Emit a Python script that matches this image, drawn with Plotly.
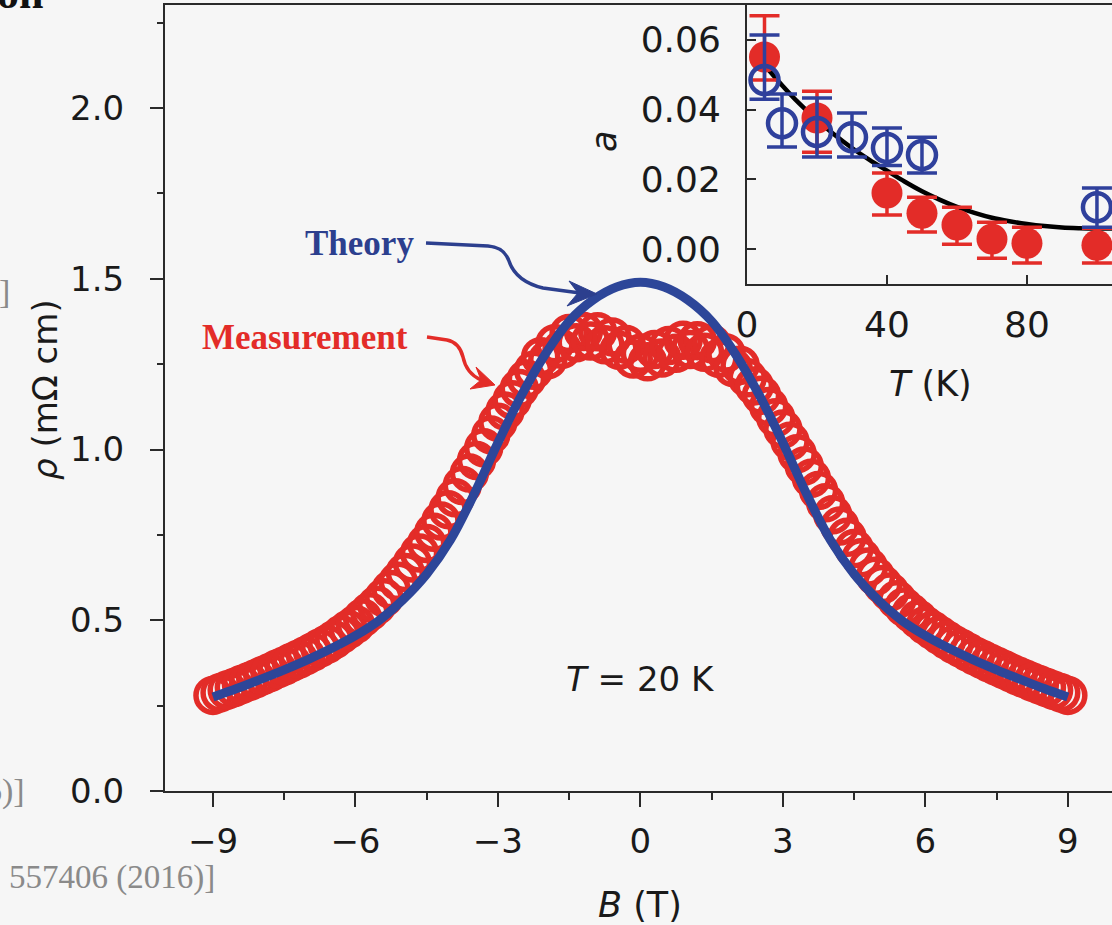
import plotly.graph_objects as go

# ---------------- data ----------------
B_meas = [-9.00, -8.85, -8.70, -8.55, -8.40, -8.25, -8.10, -7.95, -7.80, -7.65,
          -7.50, -7.35, -7.20, -7.05, -6.90, -6.75, -6.60, -6.45, -6.30, -6.15,
          -6.00, -5.85, -5.70, -5.55, -5.40, -5.25, -5.10, -4.95, -4.80, -4.65,
          -4.50, -4.35, -4.20, -4.05, -3.90, -3.75, -3.60, -3.45, -3.30, -3.15,
          -3.00, -2.85, -2.70, -2.55, -2.40, -2.25, -2.10, -1.95, -1.80, -1.65,
          -1.50, -1.35, -1.20, -1.05, -0.90, -0.75, -0.60, -0.45, -0.30, -0.15,
          0.00, 0.15, 0.30, 0.45, 0.60, 0.75, 0.90, 1.05, 1.20, 1.35,
          1.50, 1.65, 1.80, 1.95, 2.10, 2.25, 2.40, 2.55, 2.70, 2.85,
          3.00, 3.15, 3.30, 3.45, 3.60, 3.75, 3.90, 4.05, 4.20, 4.35,
          4.50, 4.65, 4.80, 4.95, 5.10, 5.25, 5.40, 5.55, 5.70, 5.85,
          6.00, 6.15, 6.30, 6.45, 6.60, 6.75, 6.90, 7.05, 7.20, 7.35,
          7.50, 7.65, 7.80, 7.95, 8.10, 8.25, 8.40, 8.55, 8.70, 8.85, 9.00]
rho_meas = [0.280, 0.288, 0.296, 0.303, 0.312, 0.320, 0.329, 0.338, 0.347, 0.357,
            0.366, 0.376, 0.386, 0.396, 0.407, 0.419, 0.430, 0.443, 0.458, 0.473,
            0.488, 0.507, 0.525, 0.544, 0.566, 0.590, 0.614, 0.640, 0.668, 0.697,
            0.725, 0.758, 0.791, 0.824, 0.859, 0.895, 0.931, 0.968, 1.005, 1.043,
            1.080, 1.113, 1.146, 1.179, 1.207, 1.232, 1.272, 1.263, 1.310, 1.294,
            1.340, 1.313, 1.346, 1.318, 1.345, 1.307, 1.330, 1.291, 1.308, 1.265,
            1.282, 1.257, 1.293, 1.268, 1.305, 1.282, 1.320, 1.293, 1.319, 1.285,
            1.310, 1.267, 1.283, 1.240, 1.247, 1.210, 1.186, 1.159, 1.126, 1.093,
            1.060, 1.024, 0.988, 0.952, 0.916, 0.880, 0.844, 0.809, 0.776, 0.743,
            0.710, 0.683, 0.656, 0.629, 0.605, 0.583, 0.560, 0.539, 0.521, 0.503,
            0.485, 0.471, 0.456, 0.442, 0.429, 0.418, 0.406, 0.395, 0.385, 0.375,
            0.365, 0.356, 0.346, 0.337, 0.328, 0.319, 0.311, 0.303, 0.295, 0.288, 0.280]

B_theory = [-9.0, -8.5, -8.0, -7.5, -7.0, -6.5, -6.0, -5.5, -5.0, -4.5, -4.0, -3.5,
            -3.0, -2.5, -2.0, -1.5, -1.0, -0.5, 0.0, 0.5, 1.0, 1.5, 2.0, 2.5, 3.0,
            3.5, 4.0, 4.5, 5.0, 5.5, 6.0, 6.5, 7.0, 7.5, 8.0, 8.5, 9.0]
rho_theory = [0.275, 0.300, 0.327, 0.355, 0.385, 0.418, 0.455, 0.500, 0.560, 0.635,
              0.735, 0.870, 1.020, 1.160, 1.280, 1.376, 1.438, 1.476, 1.490, 1.476,
              1.438, 1.376, 1.280, 1.160, 1.020, 0.870, 0.735, 0.635, 0.560, 0.500,
              0.455, 0.418, 0.385, 0.355, 0.327, 0.300, 0.275]

# inset: a(T)
T_red = [5, 20, 40, 50, 60, 70, 80, 100]
a_red = [0.0551, 0.0376, 0.0161, 0.0103, 0.0069, 0.0029, 0.0017, 0.0011]
a_red_err_plus = [0.0118, 0.0077, 0.0057, 0.0046, 0.0051, 0.0048, 0.0046, 0.0049]
a_red_err_minus = [0.0066, 0.0098, 0.0063, 0.0054, 0.0055, 0.0055, 0.0057, 0.0051]

T_blue = [5, 10, 20, 30, 40, 50, 100]
a_blue = [0.0485, 0.0361, 0.0336, 0.0321, 0.0290, 0.0270, 0.0120]
a_blue_err_plus = [0.0129, 0.0084, 0.0097, 0.0069, 0.0057, 0.0051, 0.0055]
a_blue_err_minus = [0.0055, 0.0068, 0.0072, 0.0057, 0.0050, 0.0052, 0.0057]

T_fit = [5, 10, 15, 20, 25, 30, 35, 40, 45, 50, 55, 60, 65, 70, 75, 80, 85, 90, 95, 100, 105]
a_fit = [0.0528, 0.0470, 0.0417, 0.0370, 0.0328, 0.0290, 0.0256, 0.0225, 0.0194,
         0.0166, 0.0142, 0.0121, 0.0104, 0.0090, 0.0080, 0.0072, 0.0066, 0.0062,
         0.0060, 0.0059, 0.0059]

main_xticks = [-9, -6, -3, 0, 3, 6, 9]
main_yticks = [0.0, 0.5, 1.0, 1.5, 2.0]
inset_xticks = [0, 40, 80]
inset_yticks = [0.00, 0.02, 0.04, 0.06]

# ---------------- styling ----------------
RED = "#e32c28"
BLUE_LINE = "#2d4699"
BLUE_PT = "#2f409c"
BLUE_TXT = "#2c3f8e"
BG = "#f6f6f6"
AX = "#2a2a2a"
FONT = "DejaVu Sans"
SERIF = "Liberation Serif"

W, H = 1112, 925
L, T_, R, Bm = 165, 5, 0, 134
PW, PH = W - L - R, H - T_ - Bm


def px(x):
    return (x - L) / PW


def py(y):
    return (H - Bm - y) / PH


def pt(x, y):
    return f"{px(x):.5f},{py(y):.5f}"


fig = go.Figure()

fig.add_trace(go.Scatter(
    x=B_meas, y=rho_meas, mode="markers",
    marker=dict(symbol="circle-open", size=34, color=RED, line=dict(width=5.5, color=RED)),
    xaxis="x", yaxis="y", showlegend=False))
fig.add_trace(go.Scatter(
    x=B_theory, y=rho_theory, mode="lines", line=dict(color=BLUE_LINE, width=9, shape="spline"),
    xaxis="x", yaxis="y", showlegend=False))

fig.add_trace(go.Scatter(
    x=T_fit, y=a_fit, mode="lines", line=dict(color="black", width=4.5, shape="spline"),
    xaxis="x2", yaxis="y2", showlegend=False))
fig.add_trace(go.Scatter(
    x=T_red, y=a_red, mode="markers",
    marker=dict(symbol="circle", size=31, color=RED),
    error_y=dict(type="data", array=a_red_err_plus, arrayminus=a_red_err_minus,
                 color=RED, thickness=3.5, width=15),
    xaxis="x2", yaxis="y2", showlegend=False))
fig.add_trace(go.Scatter(
    x=T_blue, y=a_blue, mode="markers",
    marker=dict(symbol="circle-open", size=28, color=BLUE_PT, line=dict(width=4.5, color=BLUE_PT)),
    error_y=dict(type="data", array=a_blue_err_plus, arrayminus=a_blue_err_minus,
                 color=BLUE_PT, thickness=3.5, width=15),
    xaxis="x2", yaxis="y2", showlegend=False))

axis_common = dict(showgrid=False, zeroline=False, showline=True, linecolor=AX, linewidth=2,
                   tickcolor=AX, tickwidth=2)
tick_font = dict(family=FONT, size=34, color="#1a1a1a")
inset_tick_font = dict(family=FONT, size=36, color="#1a1a1a")

fig.update_layout(
    width=W, height=H,
    margin=dict(l=L, r=R, t=T_, b=Bm),
    paper_bgcolor=BG, plot_bgcolor="rgba(0,0,0,0)",
    xaxis=dict(domain=[0, 1], range=[-10.01, 9.93], tickvals=main_xticks, ticks="outside",
               ticklen=14, mirror=True, ticklabelstandoff=5, tickfont=tick_font,
               minor=dict(ticks="outside", ticklen=7, tick0=-9, dtick=1.5, tickcolor=AX, tickwidth=2),
               anchor="y", **axis_common),
    yaxis=dict(domain=[0, 1], range=[0, 2.302], tickvals=main_yticks, tickformat=".1f",
               ticks="outside", ticklen=13, ticklabelstandoff=19, tickfont=tick_font,
               minor=dict(ticks="outside", ticklen=6, tick0=0, dtick=0.25, tickcolor=AX, tickwidth=2),
               anchor="x", **axis_common),
    xaxis2=dict(domain=[px(747), 1], range=[0, 104.3], tickvals=inset_xticks, ticks="inside",
                ticklen=9, mirror=True, ticklabelstandoff=8, tickfont=inset_tick_font,
                anchor="y2", **axis_common),
    yaxis2=dict(domain=[py(284), 1], range=[-0.01, 0.07], tickvals=inset_yticks, tickformat=".2f",
                ticks="inside", ticklen=9, ticklabelstandoff=17, tickfont=inset_tick_font,
                anchor="x2", **axis_common),
)

ann = []


def text(x, y, s, size=34, color="#1a1a1a", family=FONT, angle=0, xanchor="center", yanchor="middle"):
    ann.append(dict(x=px(x), y=py(y), xref="paper", yref="paper", text=s, showarrow=False,
                    textangle=angle, xanchor=xanchor, yanchor=yanchor,
                    font=dict(family=family, size=size, color=color)))


text(45, 390, "<i>ρ</i> (mΩ cm)", size=34, angle=-90)
text(640, 905, "<i>B</i> (T)", size=35)
text(604, 142, "<i>a</i>", size=35, angle=-90)
text(930, 384, "<i>T</i> (K)", size=35)
text(640, 679, "<i>T</i> = 20 K", size=34)
text(359, 244, "<b>Theory</b>", size=35, color=BLUE_TXT, family=SERIF)
text(305, 337, "<b>Measurement</b>", size=35, color=RED, family=SERIF)
# fragments of the slide behind the figure
text(12, 292, "]", size=34, color="#8a8a8a", family=SERIF, xanchor="right")
text(27, 791, "6)]", size=34, color="#8a8a8a", family=SERIF, xanchor="right")
text(217, 878, "557406 (2016)]", size=33, color="#8a8a8a", family=SERIF, xanchor="right")
text(45, 20, "<b>on</b>", size=44, color="#111111", family=SERIF, xanchor="right", yanchor="bottom")

shapes = [
    # Theory curvy arrow
    dict(type="path", xref="paper", yref="paper",
         path=f"M {pt(426,243)} L {pt(488,246)} C {pt(501,247)} {pt(506,253)} {pt(509,261)} "
              f"C {pt(513,273)} {pt(523,283)} {pt(543,288)} L {pt(580,293)}",
         line=dict(color=BLUE_TXT, width=3.5)),
    dict(type="path", xref="paper", yref="paper",
         path=f"M {pt(597,294)} L {pt(569,281)} L {pt(578,293)} L {pt(567,306)} Z",
         fillcolor=BLUE_TXT, line=dict(color=BLUE_TXT, width=1)),
    # Measurement curvy arrow
    dict(type="path", xref="paper", yref="paper",
         path=f"M {pt(427,337)} L {pt(447,340)} C {pt(457,342)} {pt(461,349)} {pt(463,357)} "
              f"C {pt(465,367)} {pt(470,375)} {pt(481,380)}",
         line=dict(color=RED, width=3.5)),
    dict(type="path", xref="paper", yref="paper",
         path=f"M {pt(495,385)} L {pt(476,367)} L {pt(481,380)} L {pt(470,389)} Z",
         fillcolor=RED, line=dict(color=RED, width=1)),
]

fig.update_layout(annotations=ann, shapes=shapes)
fig.write_html("out.html")
